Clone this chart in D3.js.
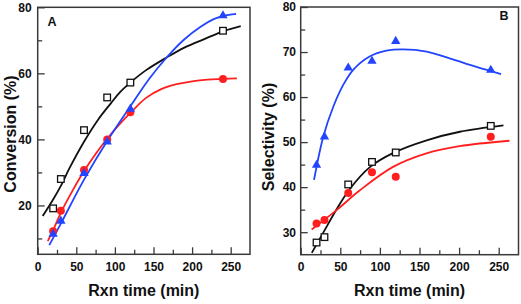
<!DOCTYPE html>
<html><head><meta charset="utf-8">
<script src="https://cdn.jsdelivr.net/npm/d3@7"></script>
<style>body{margin:0;background:#fff}svg{display:block}text{font-family:"Liberation Sans",Arial,sans-serif;font-weight:bold;fill:#111}</style>
</head><body>
<svg id="c" width="521" height="304"></svg>
<script>
// ---- data ----
const times = [20, 30, 60, 90, 120, 240];
// Panel A: Conversion (%)
const convBlack = [19.1, 28.0, 42.8, 52.7, 57.2, 72.9];
const convRed   = [12.2, 18.4, 30.7, 40.0, 48.2, 58.3];
const convBlue  = [11.3, 15.3, 29.7, 39.3, 49.2, 77.5];
// Panel B: Selectivity (%)
const selBlack = [27.7, 28.9, 40.6, 45.6, 47.7, 53.6];
const selRed   = [31.9, 32.7, 38.7, 43.3, 42.3, 51.2];
const selBlue  = [44.9, 51.2, 66.5, 68.0, 72.4, 66.0];
// fitted curves: [time, value]
const fitConvBlack = [[6.5,16.8],[20,21.8],[30,25.9],[41,31.2],[60,39.3],[78,45.9],[95,51.0],[107,54.4],[120,57.2],[140,60.9],[167,64.8],[190,67.8],[215,70.3],[241,72.8],[263,74.3]];
const fitConvRed   = [[13,9.2],[20,12.5],[30,17.8],[45,24.4],[60,30.4],[75,35.6],[90,40.2],[105,44.3],[120,48.0],[140,52.5],[160,55.2],[180,56.7],[200,57.6],[220,58.1],[241,58.3],[258,58.5]];
const fitConvBlue  = [[15,8],[30,14.5],[60,27.8],[90,39.5],[120,50],[145,58.5],[167,64.8],[189,70.1],[211,74.1],[228,76.4],[241,77.4],[257,78]];
const fitSelBlack = [[14,25.4],[28.5,29.9],[45,35.0],[62,39.6],[87,44.4],[117,47.6],[159,50.4],[201,52.3],[256,53.7]];
const fitSelRed   = [[13.8,30.6],[45.3,34.9],[74.7,39.3],[116.6,44.5],[158.7,47.5],[200.6,49.1],[263.6,50.3]];
const fitSelBlue  = [[16.8,41.6],[28.5,51.2],[41,57.8],[53.7,62.7],[66,66],[87,69],[108,70.3],[129,70.6],[159,70.1],[188,68.6],[222,66.7],[253,65.1]];
const xTicks = [0, 50, 100, 150, 200, 250];
const xMinor = [25, 75, 125, 175, 225];
const yTicksA = [20, 40, 60, 80];
const yMinorA = [10, 30, 50, 70];
const yTicksB = [30, 40, 50, 60, 70, 80];
const yMinorB = [35, 45, 55, 65, 75];

const BLACK = "#111", RED = "#ff1f1f", BLUE = "#2244ff", FRAME = "#3a3a3a";
const svg = d3.select("#c");

function panel(o) {
  const x = d3.scaleLinear().domain([0, 275]).range([o.x0, o.x1]);
  const y = d3.scaleLinear().domain(o.yDom).range([o.y1, o.y0]);
  const g = svg.append("g");
  // frame
  g.append("rect").attr("x", o.x0).attr("y", o.y0).attr("width", o.x1 - o.x0).attr("height", o.y1 - o.y0)
    .attr("fill", "none").attr("stroke", FRAME).attr("stroke-width", 1.5);
  // x axis
  const xa = g.append("g").attr("transform", `translate(0,${o.y1})`)
    .call(d3.axisBottom(x).tickValues(xTicks).tickSize(-7).tickPadding(0).tickFormat(d3.format("d")));
  xa.select(".domain").remove();
  xa.selectAll("line").attr("stroke", FRAME).attr("stroke-width", 1.3);
  xa.selectAll("text").attr("dy", null).attr("y", 16.3).attr("font-size", 12).style("fill", "#111");
  const xm = g.append("g").attr("transform", `translate(0,${o.y1})`)
    .call(d3.axisBottom(x).tickValues(xMinor).tickSize(-4.5).tickFormat(""));
  xm.select(".domain").remove();
  xm.selectAll("line").attr("stroke", FRAME).attr("stroke-width", 1.3);
  // y axis
  const ya = g.append("g").attr("transform", `translate(${o.x0},0)`)
    .call(d3.axisLeft(y).tickValues(o.yTicks).tickSize(-7).tickPadding(o.ypad).tickFormat(d3.format("d")));
  ya.select(".domain").remove();
  ya.selectAll("line").attr("stroke", FRAME).attr("stroke-width", 1.3);
  ya.selectAll("text").attr("font-size", 12).style("fill", "#111");
  const ym = g.append("g").attr("transform", `translate(${o.x0},0)`)
    .call(d3.axisLeft(y).tickValues(o.yMinor).tickSize(-4.5).tickFormat(""));
  ym.select(".domain").remove();
  ym.selectAll("line").attr("stroke", FRAME).attr("stroke-width", 1.3);
  // titles
  g.append("text").attr("x", (o.x0 + o.x1) / 2).attr("y", 295.5).attr("text-anchor", "middle")
    .attr("font-size", 16).text("Rxn time (min)");
  g.append("text").attr("transform", `translate(${o.ytx},${o.yty}) rotate(-90)`).attr("text-anchor", "middle")
    .attr("font-size", 16).text(o.ytitle);
  g.append("text").attr("x", o.lx).attr("y", o.ly).attr("text-anchor", o.lanchor).attr("font-size", 12.5).text(o.label);

  const line = d3.line().x(d => x(d[0])).y(d => y(d[1])).curve(d3.curveCatmullRom.alpha(0.5));
  const clipG = g.append("g");
  o.fits.forEach(f => {
    clipG.append("path").datum(f.pts).attr("d", line).attr("fill", "none")
      .attr("stroke", f.color).attr("stroke-width", 1.8);
  });
  // markers
  const m = g.append("g");
  // black open squares
  m.selectAll("rect.sq").data(o.black.map((v, i) => [times[i], v])).join("rect")
    .attr("x", d => x(d[0]) - 3.3).attr("y", d => y(d[1]) - 3.3).attr("width", 6.6).attr("height", 6.6)
    .attr("fill", "#fff").attr("stroke", BLACK).attr("stroke-width", 1.3);
  // red circles
  m.selectAll("circle").data(o.red.map((v, i) => [times[i], v])).join("circle")
    .attr("cx", d => x(d[0])).attr("cy", d => y(d[1])).attr("r", 4).attr("fill", RED);
  // blue triangles
  const tri = d3.symbol().type(d3.symbolTriangle).size(38);
  m.selectAll("path.tri").data(o.blue.map((v, i) => [times[i], v])).join("path")
    .attr("transform", d => `translate(${x(d[0])},${y(d[1])})`).attr("d", tri).attr("fill", BLUE);
}

panel({
  x0: 37.7, x1: 250, y0: 7.3, y1: 254.3, yDom: [5.2, 80], yTicks: yTicksA, yMinor: yMinorA, ypad: 6,
  ytitle: "Conversion (%)", ytx: 15.5, yty: 134, label: "A", lx: 47.5, ly: 25.7, lanchor: "start",
  black: convBlack, red: convRed, blue: convBlue,
  fits: [{pts: fitConvBlack, color: BLACK}, {pts: fitConvRed, color: RED}, {pts: fitConvBlue, color: BLUE}]
});
panel({
  x0: 300.7, x1: 518.5, y0: 7, y1: 254.7, yDom: [25, 80], yTicks: yTicksB, yMinor: yMinorB, ypad: 4.7,
  ytitle: "Selectivity (%)", ytx: 274, yty: 137, label: "B", lx: 508.5, ly: 20, lanchor: "end",
  black: selBlack, red: selRed, blue: selBlue,
  fits: [{pts: fitSelBlack, color: BLACK}, {pts: fitSelRed, color: RED}, {pts: fitSelBlue, color: BLUE}]
});
</script>
</body></html>
